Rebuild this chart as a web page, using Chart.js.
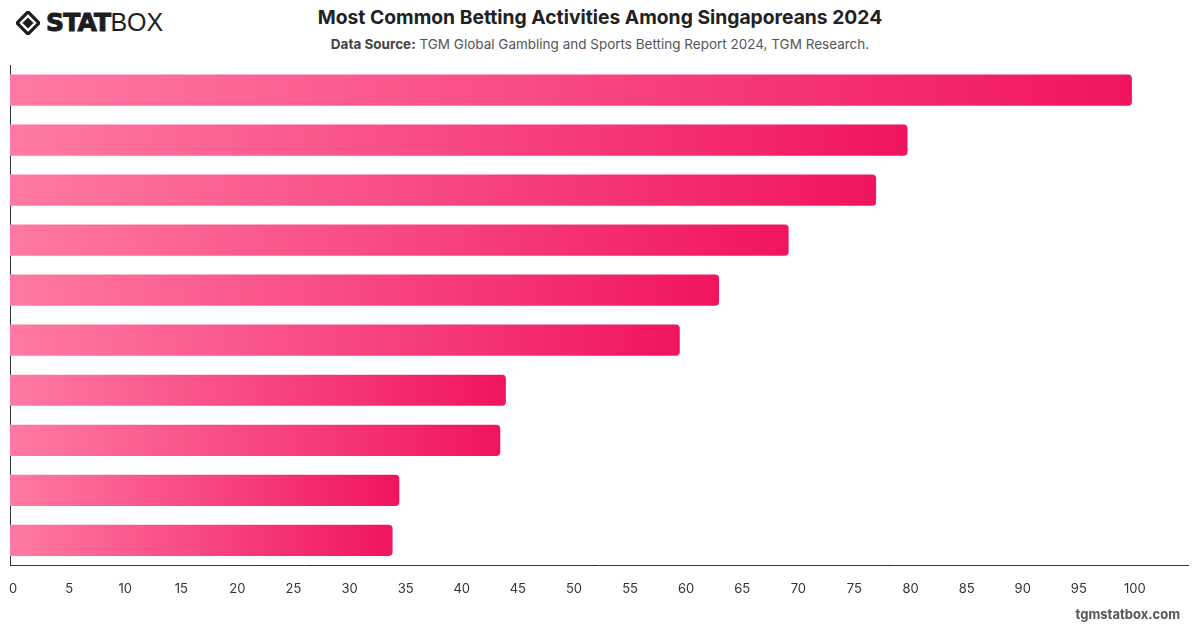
<!DOCTYPE html>
<html>
<head>
<meta charset="utf-8">
<script src="https://cdn.jsdelivr.net/npm/chart.js@4.4.1/dist/chart.umd.min.js"></script>
<style>
  html, body { margin: 0; padding: 0; background: #fff; }
  body { width: 1200px; height: 628px; position: relative; overflow: hidden; font-family: Inter, "Liberation Sans", sans-serif; }
  .logo { position: absolute; left: 16px; top: 8px; display: flex; align-items: center; }
  .logo .stat { font-family: "DejaVu Sans", sans-serif; font-weight: 900; font-size: 25px; color: #1d1d1f; letter-spacing: -0.8px; margin-left: 6px; -webkit-text-stroke: 1px #1d1d1f; }
  .logo .box { font-family: "Liberation Sans", sans-serif; font-weight: 400; font-size: 25px; color: #1d1d1f; }
  .title { position: absolute; top: 5px; left: 0; width: 1200px; text-align: center; font-size: 19.3px; font-weight: 700; color: #222; }
  .subtitle { position: absolute; top: 36px; left: 0; width: 1200px; text-align: center; font-size: 13.5px; color: #555; }
  .subtitle b { color: #444; }
  .footer { position: absolute; right: 20px; bottom: 6px; font-size: 13px; font-weight: 700; color: #555; }
  .wrap { position: absolute; left: 0; top: 60px; width: 1200px; height: 568px; }
</style>
</head>
<body>
<div class="logo">
  <svg width="24" height="24" viewBox="0 0 26 26">
    <polygon points="13,1 25,13 13,25 1,13" fill="none" stroke="#1d1d1f" stroke-width="3.5"/>
    <polygon points="13,7 19,13 13,19 7,13" fill="#1d1d1f"/>
  </svg>
  <span class="stat">STAT</span><span class="box">BOX</span>
</div>
<div class="title">Most Common Betting Activities Among Singaporeans 2024</div>
<div class="subtitle"><b>Data Source:</b> TGM Global Gambling and Sports Betting Report 2024, TGM Research.</div>
<div class="wrap"><canvas id="chart"></canvas></div>
<div class="footer">tgmstatbox.com</div>
<script>
const categories = ["Activity 1", "Activity 2", "Activity 3", "Activity 4", "Activity 5",
  "Activity 6", "Activity 7", "Activity 8", "Activity 9", "Activity 10"];
const values = [100, 80, 77.2, 69.4, 63.2, 59.7, 44.2, 43.7, 34.7, 34.1];
const xTicks = [0, 5, 10, 15, 20, 25, 30, 35, 40, 45, 50, 55, 60, 65, 70, 75, 80, 85, 90, 95, 100];

function barGradient(context) {
  const chart = context.chart;
  const area = chart.chartArea;
  if (!area) return "#f5306f";
  const end = chart.scales.x.getPixelForValue(context.raw);
  const g = chart.ctx.createLinearGradient(area.left, 0, Math.max(end, area.left + 1), 0);
  g.addColorStop(0, "#ff7aa3");
  g.addColorStop(1, "#f0145f");
  return g;
}

new Chart(document.getElementById("chart").getContext("2d"), {
  type: "bar",
  data: {
    labels: categories,
    datasets: [{
      data: values,
      backgroundColor: barGradient,
      borderRadius: 4,
      borderSkipped: "start",
      barPercentage: 0.78,
      categoryPercentage: 0.8
    }]
  },
  options: {
    indexAxis: "y",
    responsive: true,
    maintainAspectRatio: false,
    animation: false,
    layout: { padding: { left: 10, right: 12, top: 5, bottom: 15 } },
    plugins: { legend: { display: false }, tooltip: { enabled: false } },
    scales: {
      x: {
        min: 0,
        max: 105,
        grid: { display: false, drawTicks: false },
        border: { display: true, color: "#333", width: 1 },
        afterBuildTicks: (axis) => { axis.ticks = xTicks.map(v => ({ value: v })); },
        afterFit: (axis) => { axis.paddingLeft = 0; axis.paddingRight = 0; },
        ticks: { padding: 16, labelOffset: 3, color: "#333", font: { family: "Inter", size: 13 } }
      },
      y: {
        grid: { display: false, drawTicks: false },
        border: { display: true, color: "#333", width: 1 },
        afterFit: (axis) => { axis.width = 0; },
        ticks: { display: false }
      }
    }
  }
});
</script>
</body>
</html>
